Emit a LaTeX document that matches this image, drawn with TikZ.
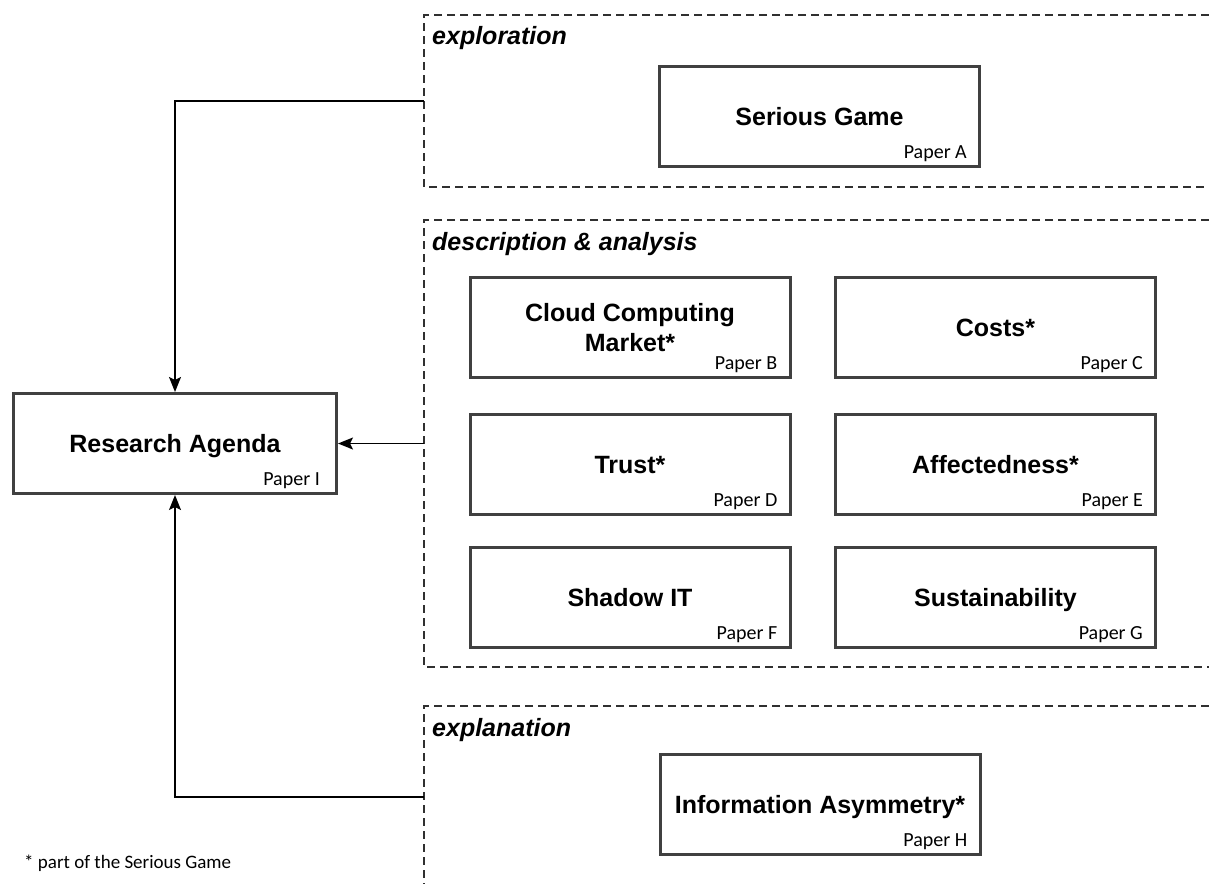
\documentclass[tikz,border=0pt]{standalone}
\usepackage{fontspec}
\setmainfont{Liberation Sans}
\newfontfamily\paperfont{Carlito}
\usetikzlibrary{arrows.meta}
\definecolor{boxgray}{HTML}{404040}
\definecolor{groupgray}{HTML}{303030}
\tikzstyle{paper box}=[draw=boxgray,line width=3pt,fill=white,minimum width=320pt,minimum height=100pt,inner sep=0pt,align=center,font=\fontsize{25}{30}\bfseries\selectfont]
\tikzstyle{one line}=[text height=22pt,text depth=4pt]
\tikzstyle{two lines}=[yshift=0pt]
\tikzstyle{paper tag}=[inner sep=0pt,anchor=base east,font=\paperfont\fontsize{20}{24}\selectfont]
\tikzstyle{group line}=[draw=groupgray,line width=1.1pt,dash pattern=on 8pt off 5pt]
\tikzstyle{group title}=[inner sep=0pt,anchor=base west,font=\fontsize{25}{30}\bfseries\itshape\selectfont]
\tikzstyle{edge} = [draw,line width=1.4pt,-{Stealth[length=15pt,width=12pt,inset=3pt]}]

\begin{document}
\begin{tikzpicture}[x=1pt,y=-1pt]
	\useasboundingbox (0,0) rectangle (1209,884);

	% dashed brackets for the three kinds of research
	\path[group line] (1209,15) -| (424,187) -- (1209,187);
	\path[group line] (1209,220) -| (424,667) -- (1209,667);
	\path[group line] (1209,706) -| (424,884);
	\node[group title] (exploration) at (432,44) {exploration};
	\node[group title] (description) at (432,250) {description \& analysis};
	\node[group title] (explanation) at (432,736) {explanation};

	% the papers
	\foreach \name/\x/\y/\lines/\txt/\pap in {sg/819.5/116/one line/Serious Game/A,
		ccm/630/327.5/two lines/Cloud Computing\\Market*/B, costs/995.5/327.5/one line/Costs*/C,
		trust/630/464/one line/Trust*/D, aff/995.5/464/one line/Affectedness*/E,
		shadow/630/597.5/one line/Shadow IT/F, sust/995.5/597.5/one line/Sustainability/G,
		ia/820/804/one line/Information Asymmetry*/H}
	{
		\node[paper box,\lines] (\name) at (\x,\y) {\txt};
		\node[paper tag] (\name-tag) at ([shift={(-14,-9.5)}]\name.south east) {Paper \pap};
	}

	\node[paper box,one line,minimum width=323pt] (ra) at (175,443.5) {Research Agenda};
	\node[paper tag] (ra-tag) at ([shift={(-18,-9.5)}]ra.south east) {Paper I};

	% connectors from the groups to the agenda
	\coordinate (explore-out) at (424,101);
	\coordinate (describe-out) at (424,443.5);
	\coordinate (explain-out) at (424,797);
	\path[edge] (explore-out) -| (ra);
	\path[edge] (describe-out) -- (ra);
	\path[edge] (explain-out) -| (ra);

	\node[inner sep=0pt,anchor=base west,font=\paperfont\fontsize{19}{23}\selectfont] (footnote) at (24,868) {* part of the Serious Game};
\end{tikzpicture}
\end{document}
